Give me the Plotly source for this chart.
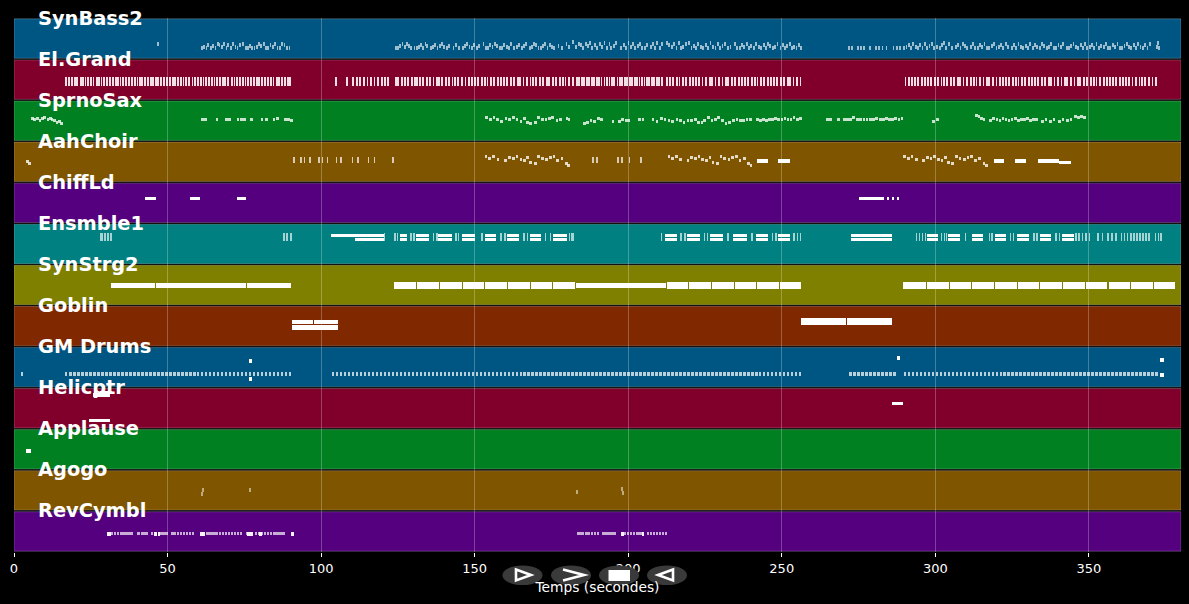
"""Piano roll of a MIDI file, one coloured row per instrument."""

import plotly.graph_objects as go

TRACKS = ["SynBass2", "El.Grand", "SprnoSax", "AahChoir", "ChiffLd", "Ensmble1", "SynStrg2",
          "Goblin", "GM Drums", "Helicptr", "Applause", "Agogo", "RevCymbl"]
TRACK_COLORS = ["#005682", "#80002b", "#008021", "#805500", "#55007f", "#008080", "#808000",
                "#802800", "#005682", "#80002b", "#008021", "#805500", "#55007f"]
X_TICKS = [0, 50, 100, 150, 200, 250, 300, 350]

# SynBass2: onset (s) and pitch (0-100 inside the row), same line layout in both lists
BASS_STARTS = [
    46.5, 61.0, 61.7, 62.4, 63.0, 63.8, 64.6, 65.3, 66.0, 66.6,
    67.4, 68.2, 68.9, 69.5, 70.3, 71.0, 71.8, 72.5, 73.3, 74.4,
    75.2, 75.9, 76.6, 77.3, 78.0, 78.7, 79.5, 80.2, 81.0, 81.8,
    82.5, 83.2, 84.0, 84.8, 85.5, 86.3, 87.0, 87.8, 88.5, 89.4,
    124.0, 124.8, 125.5, 126.2, 126.9, 127.6, 128.2, 129.0, 130.1, 130.8,
    131.5, 132.2, 133.0, 133.7, 134.3, 135.5, 136.2, 136.9, 137.6, 138.4,
    139.1, 139.8, 140.6, 141.3, 142.8, 143.7, 144.6, 145.9, 146.5, 147.2,
    148.0, 148.7, 149.4, 150.5, 151.2, 152.6, 153.3, 154.0, 154.8, 155.5,
    156.2, 157.0, 157.9, 158.6, 159.3, 160.1, 160.8, 161.5, 162.4, 163.5,
    164.2, 165.0, 165.7, 166.4, 167.6, 168.3, 169.0, 169.7, 170.5, 171.2,
    172.0, 172.7, 173.4, 174.2, 174.9, 175.6, 177.0, 178.2, 179.6, 180.3,
    181.8, 182.6, 183.6, 184.4, 185.1, 185.9, 186.6, 187.3, 188.0, 188.8,
    189.5, 190.4, 191.3, 192.0, 192.8, 193.6, 194.2, 195.0, 195.8, 197.4,
    198.2, 199.0, 199.8, 200.5, 201.3, 202.0, 202.8, 203.6, 204.3, 205.1,
    205.9, 207.0, 207.7, 208.5, 209.2, 210.1, 210.8, 212.4, 213.1, 213.9,
    214.6, 215.4, 216.1, 216.9, 217.6, 218.4, 219.5, 220.3, 221.0, 221.8,
    222.5, 223.3, 224.1, 224.9, 225.6, 226.5, 227.4, 228.1, 228.9, 229.6,
    230.4, 231.1, 232.3, 233.0, 234.5, 235.2, 236.0, 236.8, 237.5, 238.3,
    239.0, 239.8, 240.6, 241.4, 242.3, 243.0, 243.8, 244.5, 245.3, 246.0,
    246.8, 247.5, 248.3, 249.3, 250.0, 250.8, 251.5, 252.3, 253.0, 253.8,
    254.5, 255.3, 255.9,
    271.6, 272.6, 274.6, 275.6, 276.6, 278.3, 280.3, 281.3, 282.5, 283.8,
    286.1, 287.1, 288.1, 289.6, 290.3, 291.0, 291.8, 292.5, 293.3, 294.0,
    294.8, 295.5, 296.3, 297.0, 297.8, 298.6, 299.3, 300.3, 301.1, 301.8,
    302.6, 303.3, 304.2, 305.0, 306.4, 307.1, 307.9, 308.6, 309.4, 310.1,
    311.2, 312.0, 312.7, 313.5, 314.2, 315.0, 315.7, 316.6, 317.3, 318.1,
    318.8, 319.6, 320.3, 321.1, 321.8, 322.7, 323.5, 324.6, 325.3, 326.1,
    326.8, 327.6, 328.3, 329.1, 329.8, 330.6, 331.4, 332.1, 332.9, 333.7,
    334.4, 335.2, 336.0, 336.7, 337.5, 338.3, 339.0, 339.8, 340.5, 341.3,
    342.5, 343.2, 344.0, 344.7, 345.5, 346.2, 347.0, 347.7, 348.5, 349.2,
    350.0, 350.7, 351.5, 352.2, 353.0, 353.7, 354.5, 355.2, 356.0, 356.7,
    357.5, 358.2, 359.0, 359.7, 360.5, 361.3, 362.0, 362.8, 363.5, 364.3,
    365.0, 365.8, 366.5, 367.3, 368.0, 368.8, 369.6, 371.8, 372.3, 372.6,
]
BASS_PITCHES = [
    36, 26, 30, 26, 34, 28, 32, 26, 36, 34,
    30, 36, 28, 34, 26, 36, 30, 26, 34, 36,
    28, 26, 32, 28, 26, 30, 36, 32, 36, 28,
    26, 34, 30, 36, 26, 28, 36, 34, 28, 26,
    26, 28, 32, 36, 30, 36, 32, 26, 28, 26,
    30, 34, 28, 36, 32, 26, 30, 34, 28, 32,
    36, 30, 26, 32, 28, 34, 26, 28, 32, 36,
    30, 26, 34, 28, 32, 36, 28, 26, 34, 30,
    36, 32, 28, 26, 34, 30, 26, 36, 28, 30,
    34, 26, 32, 36, 28, 30, 36, 34, 26, 28,
    32, 36, 28, 34, 30, 26, 32, 28, 36, 30,
    42, 30, 36, 34, 28, 36, 32, 38, 28, 34,
    26, 36, 30, 38, 28, 36, 26, 32, 38, 28,
    34, 26, 38, 30, 36, 26, 32, 36, 28, 26,
    34, 30, 36, 26, 38, 28, 36, 38, 34, 30,
    36, 28, 38, 26, 30, 36, 38, 28, 32, 26,
    36, 30, 26, 34, 28, 38, 30, 26, 36, 28,
    32, 36, 26, 30, 36, 28, 26, 34, 30, 36,
    28, 32, 26, 36, 30, 26, 34, 28, 36, 32,
    26, 30, 36, 28, 34, 26, 32, 36, 28, 30,
    26, 34, 28,
    26, 26, 26, 26, 26, 26, 26, 26, 26, 26,
    26, 26, 26, 28, 30, 34, 26, 36, 30, 26,
    34, 28, 36, 26, 32, 36, 28, 30, 26, 34,
    38, 28, 36, 26, 30, 34, 28, 36, 32, 26,
    30, 36, 28, 26, 34, 30, 36, 26, 28, 32,
    36, 26, 30, 34, 28, 36, 30, 26, 34, 28,
    36, 30, 26, 32, 28, 36, 26, 34, 30, 28,
    36, 32, 26, 30, 36, 28, 26, 34, 30, 36,
    26, 28, 32, 36, 30, 26, 34, 28, 36, 26,
    30, 34, 28, 36, 26, 32, 30, 36, 28, 26,
    34, 30, 36, 26, 28, 32, 36, 30, 26, 34,
    28, 36, 30, 26, 34, 28, 36, 30, 38, 28,
]

# El.Grand chords: onset (s), one line per ten seconds or so
PIANO_STARTS = [
    16.6, 17.6, 18.5, 19.5, 20.3, 21.4, 22.3, 23.0, 23.7, 24.7, 25.6, 26.6, 27.3, 28.2, 28.9,
    29.9, 30.9, 31.8, 32.8, 33.5, 34.4, 35.3, 36.2, 37.2, 38.2, 39.0, 39.9, 40.8, 41.5, 42.4,
    43.2, 44.2, 45.0, 45.8, 46.6, 47.5, 48.5, 49.6, 50.6, 51.4, 52.2, 53.2, 54.0, 54.9, 55.6,
    56.8, 57.8, 58.7, 59.7, 60.5, 61.4, 62.2, 63.2, 64.2, 65.0, 65.9, 66.8, 67.7, 68.4, 69.5,
    70.6, 71.5, 72.4, 73.3, 74.2, 75.1, 76.0, 76.9, 77.8, 78.8, 79.6, 80.5, 81.4, 82.4, 83.4,
    84.2, 85.2, 86.1, 86.9, 87.9, 88.8, 89.6,
    104.6, 108.1, 110.0, 111.3, 112.4, 113.6, 114.8, 115.9, 117.1, 118.2, 119.4, 120.6, 121.6,
    124.0, 124.8, 126.0, 126.9, 128.1, 129.2, 130.3, 131.0, 131.8, 133.0, 134.1, 135.2, 136.3,
    137.4, 138.2, 139.1, 140.3, 141.4, 142.5, 143.3, 144.4, 145.6, 146.7, 147.8, 148.9, 149.7,
    150.8, 152.0, 153.1, 153.9, 155.0, 156.1, 157.3, 158.4, 159.2, 160.3, 161.4, 162.6, 163.7,
    164.5, 165.6, 166.8, 167.9, 168.7, 169.8, 170.9, 172.0, 173.2, 174.0, 175.1, 176.2, 177.4,
    178.5, 179.3, 180.4, 181.6, 183.0, 183.8, 184.6, 185.4, 186.2, 187.0, 187.8, 188.6, 189.4,
    190.2, 191.0, 192.0, 192.8, 193.6, 194.4, 195.2, 196.2, 197.0, 197.8, 198.6, 199.4, 200.2,
    201.0, 201.8, 202.6, 203.4, 204.2, 205.0, 205.8, 206.6, 207.4, 208.2, 209.0, 209.8, 210.6,
    212.2, 213.3, 214.4, 215.6, 216.4, 217.5, 218.6, 219.8, 220.9, 221.7, 222.8, 223.9, 225.1,
    226.2, 227.0, 228.1, 229.2, 230.4, 231.5, 232.3, 233.4, 234.6, 235.7, 236.8, 237.6, 238.7,
    239.9, 241.0, 241.8, 242.9, 244.0, 245.2, 246.3, 247.1, 248.2, 249.4, 250.5, 251.6, 252.4,
    253.5, 254.7, 255.8,
    290.0, 291.1, 292.2, 293.0, 294.1, 295.3, 296.4, 297.2, 298.3, 299.5, 300.6, 301.7, 302.5,
    303.6, 304.8, 305.9, 307.0, 307.8, 308.9, 310.1, 311.2, 312.3, 313.1, 314.2, 315.4, 316.5,
    317.3, 318.4, 319.6, 320.7, 321.8, 322.6, 323.7, 324.9, 326.0, 326.8, 327.9, 329.0, 330.2,
    331.3, 332.1, 333.2, 334.3, 335.5, 336.6, 337.4, 338.5, 339.7, 340.8, 341.9, 342.7, 343.8,
    345.0, 346.1, 346.9, 348.0, 349.1, 350.3, 351.4, 352.2, 353.3, 354.5, 355.6, 356.7, 357.5,
    358.6, 359.8, 360.9, 361.7, 362.8, 363.9, 365.1, 366.2, 367.0, 368.1, 369.3, 370.4, 371.5,
]

# SprnoSax phrases: onset (s), pitch (0-100)
SAX_STARTS = [
    5.5, 6.3, 7.2, 8.0, 8.8, 9.6, 10.6, 11.4, 12.0, 12.8, 13.6, 14.3, 15.0,
    61.0, 62.0, 65.7, 68.8, 69.8, 72.5, 73.6, 74.6, 77.0, 80.3, 81.8, 84.2, 85.3, 88.0, 89.0, 90.0,
    153.5, 154.7, 155.9, 157.1, 158.3, 159.8, 161.0, 162.2, 163.4, 164.6, 165.8, 166.8, 167.8, 169.4,
    170.4, 171.6, 172.8, 174.0, 175.0, 176.4, 177.6, 179.6, 180.3, 185.3, 186.3, 187.5, 188.5, 189.9,
    190.9, 194.6, 196.8, 197.8, 198.8, 199.7, 203.2, 204.4, 207.6, 209.0, 210.4, 211.6, 212.8, 214.0,
    215.4, 216.6, 217.8, 219.0, 220.2, 221.4, 222.4, 223.6, 224.4, 225.8, 226.8, 228.0, 229.0, 230.2,
    231.4, 232.6, 233.8, 235.0, 236.2, 237.2, 238.2, 239.4, 241.6, 242.6, 243.6, 244.6, 245.6, 246.6,
    247.6, 248.6, 249.6, 250.6, 251.6, 252.6, 253.6, 254.6, 255.6,
    264.5, 265.5, 268.0, 270.0, 271.0, 272.0, 273.0, 274.2, 275.3, 276.3, 277.3, 278.5, 279.5, 280.5,
    281.7, 282.7, 283.7, 284.7, 285.7, 286.7, 287.7, 288.7, 299.0, 300.3,
    313.0, 313.8, 314.6, 315.4,
    317.6, 318.6, 319.6, 320.6, 321.6, 322.6, 323.6, 324.6, 325.6, 326.6, 327.6, 328.6, 329.6, 330.6,
    331.6, 332.6, 334.4, 335.6, 337.0, 338.2, 340.0, 341.2, 342.6, 343.8, 345.2, 346.2, 347.2, 348.2,
]
SAX_PITCHES = [
    56, 52, 56, 50, 56, 58, 52, 56, 54, 50, 46, 48, 44,
    52, 52, 52, 52, 52, 52, 52, 52, 52, 52, 52, 52, 56, 52, 54, 50,
    58, 54, 58, 52, 48, 56, 54, 58, 52, 48, 56, 46, 44, 46,
    58, 54, 52, 56, 58, 50, 54, 56, 52, 44, 46, 50, 48, 56,
    52, 48, 48, 54, 50, 50, 54, 52, 52, 48, 56, 52, 50, 48,
    54, 50, 46, 50, 50, 54, 46, 46, 50, 58, 50, 54, 58, 50,
    44, 46, 50, 52, 50, 50, 54, 52, 54, 50, 52, 50, 54, 52,
    56, 54, 52, 56, 52, 54, 58, 52, 56,
    52, 52, 52, 54, 52, 52, 58, 54, 52, 54, 52, 54, 52, 56,
    54, 52, 56, 54, 52, 56, 52, 56, 48, 52,
    62, 60, 56, 54,
    50, 56, 52, 50, 56, 54, 50, 52, 56, 50, 54, 52, 56, 50,
    52, 54, 48, 52, 48, 52, 48, 52, 50, 54, 60, 58, 60, 58,
]

# AahChoir: short notes, tall chord ticks, then held notes
CHOIR_STARTS = [
    4.0, 4.7,
    153.3, 154.5, 155.7, 157.2, 159.7, 161.0, 162.2, 163.4, 164.6, 165.8, 166.8, 167.8, 169.4,
    170.4, 171.6, 173.0, 174.2, 175.4, 176.6, 178.0, 179.4, 180.2,
    212.8, 214.0, 215.2, 216.6, 219.0, 220.2, 221.4, 222.6, 223.8, 225.0, 226.2, 227.2, 228.6,
    229.8, 231.0, 232.4, 233.6, 234.8, 236.0, 237.4, 238.8, 239.6,
    289.6, 290.8, 292.0, 293.4, 295.8, 297.0, 298.2, 299.4, 300.6, 301.8, 302.8, 303.8, 305.2,
    306.4, 307.6, 309.0, 310.2, 311.4, 312.6, 314.0, 315.4, 316.2,
]
CHOIR_PITCHES = [
    50, 46,
    62, 58, 62, 56, 52, 60, 58, 62, 56, 52, 60, 48, 46,
    62, 58, 56, 60, 62, 54, 58, 46, 42,
    62, 58, 62, 56, 52, 60, 58, 62, 56, 52, 60, 48, 46,
    62, 58, 56, 60, 62, 54, 58, 46, 42,
    62, 58, 62, 56, 52, 60, 58, 62, 56, 52, 60, 48, 46,
    62, 58, 56, 60, 62, 54, 58, 46, 42,
]
CHOIR_TICKS = [90.9, 93.2, 94.3, 96.2, 99.0, 100.2, 101.8, 104.8, 106.2, 110.0, 111.8, 115.2, 117.2, 123.2,
               188.2, 189.6, 196.4, 197.8, 200.2, 204.0]
CHOIR_HELD_STARTS = [241.8, 248.9, 319.0, 326.0, 333.4, 340.3]
CHOIR_HELD_DURS = [3.8, 3.8, 3.4, 3.4, 6.9, 3.9]
CHOIR_HELD_PITCHES = [52, 52, 52, 52, 52, 48]

# ChiffLd
CHIFF_STARTS = [42.7, 43.5, 44.4, 45.2, 57.3, 58.2, 59.4, 72.6, 73.4, 74.5,
                275.2, 276.2, 277.2, 278.2, 279.2, 280.2, 281.2, 282.2, 284.4, 286.0, 287.6]
CHIFF_DURS = [0.8, 0.9, 0.8, 1.0, 0.9, 1.2, 1.1, 0.8, 1.1, 1.1,
              1.0, 1.0, 1.0, 1.0, 1.0, 1.0, 1.0, 1.0, 0.6, 0.6, 0.6]

# Ensmble1: held pairs of notes, and the short string hits between them
ENSEMBLE_HELD_STARTS = [103.2, 125.7, 131.0, 138.1, 145.9, 153.4, 160.6, 168.1, 175.6,
                        212.0, 219.2, 226.7, 234.2, 241.7, 248.9, 272.6,
                        297.4, 304.2, 312.0, 319.5, 326.7, 334.2, 341.4]
ENSEMBLE_HELD_DURS = [17.2, 2.3, 4.2, 4.6, 4.3, 3.6, 3.9, 3.6, 4.5,
                      4.0, 4.3, 4.3, 4.6, 3.9, 3.9, 13.4,
                      3.6, 3.9, 3.6, 3.6, 3.9, 3.6, 3.6]
ENSEMBLE_LOW_STARTS = [111.0, 125.7, 131.0, 138.1, 145.9, 153.4, 160.6, 168.1, 175.6,
                       212.0, 219.2, 226.7, 234.2, 241.7, 248.9, 272.6,
                       297.4, 304.2, 312.0, 319.5, 326.7, 334.2, 341.4]
ENSEMBLE_LOW_DURS = [9.4, 2.3, 4.2, 4.6, 4.3, 3.6, 3.9, 3.6, 4.5,
                     4.0, 4.3, 4.3, 4.6, 3.9, 3.9, 13.4,
                     3.6, 3.9, 3.6, 3.6, 3.9, 3.6, 3.6]
ENSEMBLE_TICKS = [
    28.0, 28.6, 29.4, 30.4, 31.4, 87.7, 88.7, 89.9, 120.4, 123.8, 124.6, 129.0, 130.0,
    136.4, 137.4, 143.6, 144.5, 152.2, 158.4, 159.6, 165.8, 167.0, 172.8, 174.4, 180.6, 181.4, 182.0,
    210.6, 217.0, 218.2, 224.6, 225.6, 232.2, 240.0, 246.8, 247.8, 253.8, 254.8, 255.8,
    293.6, 294.6, 295.6, 296.5, 301.8, 302.8, 303.4, 309.6, 317.4, 318.2, 324.2, 325.2, 331.8, 332.8,
    339.0, 340.2, 345.6, 346.6, 347.6, 348.8, 350.0, 352.8, 354.2, 356.0, 357.2, 358.6, 360.4, 361.4,
    362.4, 363.4, 364.4, 365.4, 366.4, 367.4, 368.4, 369.4, 371.4, 372.4, 373.2,
]

# SynStrg2 held notes, the thinner long ones apart
STRINGS_STARTS = [123.8, 131.3, 138.8, 146.3, 153.4, 160.9, 168.4, 175.6,
                  212.7, 219.9, 227.4, 234.9, 242.0, 249.5,
                  289.6, 297.4, 304.9, 312.0, 319.5, 327.0, 334.2, 341.7, 349.2, 356.4, 363.8, 371.3]
STRINGS_DURS = [7.1, 7.1, 7.1, 6.7, 7.1, 7.1, 6.8, 7.1,
                6.8, 7.1, 7.1, 6.7, 7.1, 6.9,
                7.4, 7.1, 6.7, 7.1, 7.1, 6.8, 7.1, 7.1, 6.8, 7.0, 7.1, 6.6]
STRINGS_THIN_STARTS = [31.6, 46.3, 75.9, 183.1]
STRINGS_THIN_DURS = [14.4, 29.3, 14.3, 29.2]

# Goblin pads
GOBLIN_STARTS = [90.5, 97.7, 90.5, 256.4, 271.2]
GOBLIN_DURS = [7.0, 7.8, 15.0, 14.5, 14.8]
GOBLIN_PITCHES = [60, 60, 46, 61, 61]
GOBLIN_HEIGHTS = [4.5, 4.5, 5.5, 6.5, 6.5]

# GM Drums: runs of hits on one line
DRUM_STARTS = [
    2.2, 16.6, 18.0, 19.3, 20.6, 21.9, 23.2, 24.5, 25.8, 27.1, 28.4, 29.7, 31.0, 32.3, 33.6, 34.9,
    36.2, 37.5, 38.8, 40.1, 41.4, 42.7, 44.0, 45.3, 46.6, 47.9, 49.2, 50.5, 51.8, 53.1, 54.4, 55.7,
    57.0, 58.3, 59.6, 60.9, 62.2, 63.5, 64.8, 66.1, 67.4, 68.7, 70.0, 71.3, 72.6, 73.9, 75.2, 76.5,
    77.8, 79.1, 80.4, 81.7, 83.0, 84.3, 85.6, 86.9, 88.2, 89.5,
    103.4, 104.8, 106.1, 107.4, 108.7, 110.0, 111.3, 112.6, 113.9, 115.2, 116.5, 117.8, 119.1, 120.4,
    121.7, 123.0, 124.3, 125.6, 126.9, 128.2, 129.5, 130.8, 132.1, 133.4, 134.7, 136.0, 137.3, 138.6,
    139.9, 141.2, 142.5, 143.8, 145.1, 146.4, 147.7, 149.0, 150.3, 151.6, 152.9, 154.2, 155.5, 156.8,
    158.1, 159.4, 160.7, 162.0, 163.3, 164.6, 165.9, 167.2, 168.5, 169.8, 171.1, 172.4, 173.7, 175.0,
    176.3, 177.6, 178.9, 180.2, 181.5, 182.8, 184.1, 185.4, 186.7, 188.0, 189.3, 190.6, 191.9, 193.2,
    194.5, 195.8, 197.1, 198.4, 199.7, 201.0, 202.3, 203.6, 204.9, 206.2, 207.5, 208.8, 210.1, 211.4,
    212.7, 214.0, 215.3, 216.6, 217.9, 219.2, 220.5, 221.8, 223.1, 224.4, 225.7, 227.0, 228.3, 229.6,
    230.9, 232.2, 233.5, 234.8, 236.1, 237.4, 238.7, 240.0, 241.3, 242.6, 243.9, 245.2, 246.5, 247.8,
    249.1, 250.4, 251.7, 253.0, 254.3, 255.6,
    272.0, 273.3, 274.6, 275.9, 277.2, 278.5, 279.8, 281.1, 282.4, 283.7, 285.0, 286.3,
    289.7, 291.0, 292.3, 293.6, 294.9, 296.2, 297.5, 298.8, 300.1, 301.4, 302.7, 304.0, 305.3, 306.6,
    307.9, 309.2, 310.5, 311.8, 313.1, 314.4, 315.7, 317.0, 318.3, 319.6, 320.9, 322.2, 323.5, 324.8,
    326.1, 327.4, 328.7, 330.0, 331.3, 332.6, 333.9, 335.2, 336.5, 337.8, 339.1, 340.4, 341.7, 343.0,
    344.3, 345.6, 346.9, 348.2, 349.5, 350.8, 352.1, 353.4, 354.7, 356.0, 357.3, 358.6, 359.9, 361.2,
    362.5, 363.8, 365.1, 366.4, 367.7, 369.0, 370.3, 371.6,
]
DRUM_ACCENT_STARTS = [76.8, 76.8, 287.8, 373.0, 373.0]
DRUM_ACCENT_DURS = [0.6, 0.6, 0.6, 1.6, 1.6]
DRUM_ACCENT_PITCHES = [66, 20, 72, 68, 32]

# Helicptr, Applause, Agogo
HELI_STARTS = [25.7, 28.0, 24.4, 286.0]
HELI_DURS = [5.6, 3.3, 6.9, 3.6]
HELI_PITCHES = [82, 88, 20, 61]
APPLAUSE_STARTS = [3.9]
APPLAUSE_DURS = [1.6]
APPLAUSE_PITCHES = [46]
AGOGO_STARTS = [61.2, 60.9, 76.5, 183.0, 197.7, 198.0]
AGOGO_PITCHES = [51, 41, 51, 46, 54, 44]

# RevCymbl hits and the louder ones
CYMBAL_STARTS = [
    31.6, 32.6, 33.5, 34.4, 35.3, 36.3, 37.2, 38.1, 40.2, 41.2, 42.1, 43.0, 44.6, 47.4, 48.3,
    49.3, 51.2, 52.1, 53.0, 54.0, 55.0, 56.0, 57.0, 58.0, 62.6, 63.6, 64.6, 65.6, 66.6, 67.6,
    68.6, 69.6, 70.6, 71.6, 72.6, 73.6, 75.4, 78.4, 79.4, 80.4, 81.4, 82.4, 83.4, 84.4, 85.4, 86.4, 87.4,
    183.2, 184.1, 185.0, 186.0, 186.9, 187.8, 188.8, 189.7, 191.6, 192.6, 193.5, 194.5, 195.4,
    198.6, 199.6, 200.6, 201.6, 202.6, 203.6, 206.0, 207.0, 208.0, 209.0, 210.0, 211.0, 212.0,
]
CYMBAL_LOUD_STARTS = [30.2, 45.6, 46.8, 60.5, 61.3, 76.0, 77.0, 79.9, 90.3, 197.6, 204.4]
CYMBAL_LOUD_DURS = [1.5, 0.9, 0.9, 0.9, 0.9, 0.9, 0.9, 0.9, 0.9, 0.9, 0.9]

PLOT_TOP = 18
PLOT_BOTTOM = 552
PLOT_LEFT = 14
PLOT_RIGHT = 1181
ROW_PX = (PLOT_BOTTOM - PLOT_TOP) / len(TRACKS)


def px_x(x):
    return (x - PLOT_LEFT) / (PLOT_RIGHT - PLOT_LEFT)


def px_y(y):
    return (PLOT_BOTTOM - y) / (PLOT_BOTTOM - PLOT_TOP)


def path_from_px(points, close=False):
    parts = [f"{'M' if i == 0 else 'L'} {px_x(x):.5f} {px_y(y):.5f}" for i, (x, y) in enumerate(points)]
    return " ".join(parts) + (" Z" if close else "")


def add_notes(fig, row, starts, durs, pitches, height_px, opacity=1.0):
    """One horizontal bar per note, placed inside the row of its track."""
    n = len(starts)
    durs = durs if isinstance(durs, list) else [durs] * n
    pitches = pitches if isinstance(pitches, list) else [pitches] * n
    heights = [h / ROW_PX for h in height_px] if isinstance(height_px, list) else height_px / ROW_PX
    fig.add_trace(
        go.Bar(
            orientation="h",
            base=starts,
            x=durs,
            y=[row + 1 - p / 100 for p in pitches],
            width=heights,
            marker=dict(color=f"rgba(255,255,255,{opacity})", line=dict(width=0)),
            showlegend=False,
            hoverinfo="skip",
        )
    )


fig = go.Figure()

add_notes(fig, 0, BASS_STARTS, 0.6, BASS_PITCHES, 4, 0.62)
add_notes(fig, 1, PIANO_STARTS, 0.6, 46, 9, 0.88)
add_notes(fig, 2, SAX_STARTS, 0.85, SAX_PITCHES, 3, 0.78)
add_notes(fig, 3, CHOIR_STARTS, 0.85, CHOIR_PITCHES, 3, 0.78)
add_notes(fig, 3, CHOIR_TICKS, 0.5, 55, 6, 0.7)
add_notes(fig, 3, CHOIR_HELD_STARTS, CHOIR_HELD_DURS, CHOIR_HELD_PITCHES, 3.5)
add_notes(fig, 4, CHIFF_STARTS, CHIFF_DURS, 61, 3.5)
add_notes(fig, 5, ENSEMBLE_HELD_STARTS, ENSEMBLE_HELD_DURS, 71, 3)
add_notes(fig, 5, ENSEMBLE_LOW_STARTS, ENSEMBLE_LOW_DURS, 60, 3)
add_notes(fig, 5, ENSEMBLE_TICKS, 0.5, 66, 8, 0.65)
add_notes(fig, 6, STRINGS_STARTS, STRINGS_DURS, 48, 7)
add_notes(fig, 6, STRINGS_THIN_STARTS, STRINGS_THIN_DURS, 48, 5)
add_notes(fig, 7, GOBLIN_STARTS, GOBLIN_DURS, GOBLIN_PITCHES, GOBLIN_HEIGHTS)
add_notes(fig, 8, DRUM_STARTS, 0.8, 33, 4, 0.72)
add_notes(fig, 8, DRUM_ACCENT_STARTS, DRUM_ACCENT_DURS, DRUM_ACCENT_PITCHES, 4)
add_notes(fig, 9, HELI_STARTS, HELI_DURS, HELI_PITCHES, 3.2)
add_notes(fig, 10, APPLAUSE_STARTS, APPLAUSE_DURS, APPLAUSE_PITCHES, 4)
add_notes(fig, 11, AGOGO_STARTS, 0.6, AGOGO_PITCHES, 4, 0.5)
add_notes(fig, 12, CYMBAL_STARTS, 0.75, 44, 3, 0.68)
add_notes(fig, 12, CYMBAL_LOUD_STARTS, CYMBAL_LOUD_DURS, 45, 4, 0.95)

shapes = []
for i, color in enumerate(TRACK_COLORS):
    shapes.append(
        dict(type="rect", xref="x", yref="y", x0=0, x1=380, y0=i + 0.02, y1=i + 0.98, layer="below",
             fillcolor=color, line=dict(color="rgba(255,255,255,0.22)", width=1))
    )

# Player buttons under the axis
BUTTON_CENTERS = [522.5, 571, 619, 667]
for cx in BUTTON_CENTERS:
    shapes.append(
        dict(type="circle", xref="paper", yref="paper", x0=px_x(cx - 20), x1=px_x(cx + 20),
             y0=px_y(585), y1=px_y(565.5), fillcolor="#3a3a3a", line=dict(width=0), layer="above")
    )
button_line = dict(color="white", width=2.6)
shapes += [
    dict(type="path", xref="paper", yref="paper", layer="above", line=button_line,
         path=path_from_px([(516, 569.5), (531, 575), (516, 580.5)], close=True)),
    dict(type="path", xref="paper", yref="paper", layer="above", line=button_line,
         path=path_from_px([(563, 569.5), (584, 575), (563, 580.5)])),
    dict(type="rect", xref="paper", yref="paper", layer="above", fillcolor="white", line=dict(width=0),
         x0=px_x(608.5), x1=px_x(630), y0=px_y(581), y1=px_y(570)),
    dict(type="path", xref="paper", yref="paper", layer="above", line=button_line,
         path=path_from_px([(673, 569.5), (658, 575), (673, 580.5)], close=True)),
]

annotations = [
    dict(x=7.2, y=i, xref="x", yref="y", text=name, showarrow=False, xanchor="left", yanchor="middle",
         font=dict(family="DejaVu Sans", size=19.4, color="white", weight="bold"))
    for i, name in enumerate(TRACKS)
]

fig.update_layout(
    width=1189,
    height=604,
    margin=dict(l=PLOT_LEFT, r=1189 - PLOT_RIGHT, t=PLOT_TOP, b=604 - PLOT_BOTTOM),
    paper_bgcolor="black",
    plot_bgcolor="black",
    barmode="overlay",
    bargap=0,
    showlegend=False,
    shapes=shapes,
    annotations=annotations,
    font=dict(family="DejaVu Sans", color="white", size=13),
)
fig.update_xaxes(
    range=[0, 380],
    tickmode="array",
    tickvals=X_TICKS,
    showgrid=True,
    gridcolor="rgba(255,255,255,0.25)",
    gridwidth=1,
    zeroline=False,
    ticks="outside",
    ticklen=4,
    tickcolor="white",
    tickfont=dict(size=13, color="white"),
    title=dict(text="Temps (secondes)", font=dict(size=13.8, color="white"), standoff=7),
)
fig.update_yaxes(range=[13, 0], visible=False)

# the page margin would otherwise shift the whole figure by 8px
fig.write_html(
    "out.html",
    config={"displayModeBar": False},
    post_script="document.body.style.margin='0';document.body.style.background='black';",
)
